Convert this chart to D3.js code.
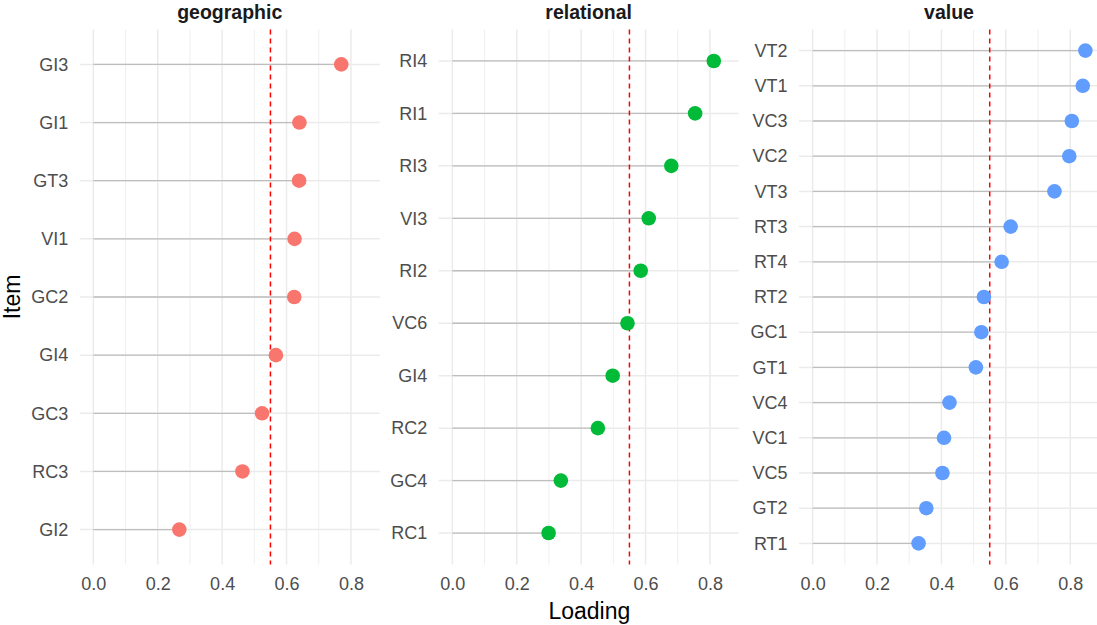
<!DOCTYPE html>
<html>
<head>
<meta charset="utf-8">
<script src="https://cdn.jsdelivr.net/npm/d3@7/dist/d3.min.js"></script>
<style>
  html, body { margin: 0; padding: 0; background: #ffffff; }
  svg { display: block; font-family: "Liberation Sans", Arial, sans-serif; }
</style>
</head>
<body>
<svg id="chart" width="1097" height="625"></svg>
<script>
// Factor loadings by dimension, listed from highest to lowest
const geographicItems = ["GI3", "GI1", "GT3", "VI1", "GC2", "GI4", "GC3", "RC3", "GI2"];
const geographicLoadings = [0.770, 0.640, 0.639, 0.625, 0.624, 0.567, 0.524, 0.463, 0.267];

const relationalItems = ["RI4", "RI1", "RI3", "VI3", "RI2", "VC6", "GI4", "RC2", "GC4", "RC1"];
const relationalLoadings = [0.812, 0.754, 0.680, 0.610, 0.585, 0.544, 0.498, 0.452, 0.337, 0.299];

const valueItems = ["VT2", "VT1", "VC3", "VC2", "VT3", "RT3", "RT4", "RT2", "GC1", "GT1", "VC4", "VC1", "VC5", "GT2", "RT1"];
const valueLoadings = [0.847, 0.839, 0.805, 0.797, 0.751, 0.615, 0.587, 0.532, 0.524, 0.507, 0.425, 0.408, 0.403, 0.353, 0.329];

const facetNames = ["geographic", "relational", "value"];
const facetColors = ["#F8766D", "#00BA38", "#619CFF"];
const xTicks = [0, 0.2, 0.4, 0.6, 0.8];
const xMinor = [0.1, 0.3, 0.5, 0.7];
const cutoff = 0.55;

const facets = [
  { name: facetNames[0], items: geographicItems, values: geographicLoadings, color: facetColors[0] },
  { name: facetNames[1], items: relationalItems, values: relationalLoadings, color: facetColors[1] },
  { name: facetNames[2], items: valueItems, values: valueLoadings, color: facetColors[2] }
];

const svg = d3.select("#chart");

// Layout
const panelTop = 29.5, panelBottom = 564.5;
const panelW = 300;
const panelLefts = [79.7, 438.7, 799];

// Shared x scale with 5% expansion on both sides (segments start at 0)
const allVals = [].concat(geographicLoadings, relationalLoadings, valueLoadings);
const xmax = d3.max(allVals), xmin = 0;
const pad = (xmax - xmin) * 0.05;
const x = d3.scaleLinear().domain([xmin - pad, xmax + pad]).range([0, panelW]);

const gridCol = "#EBEBEB";

facets.forEach((f, i) => {
  const g = svg.append("g").attr("transform", `translate(${panelLefts[i]},0)`);
  const n = f.items.length;
  // discrete scale with 0.6 expansion
  const y = d3.scalePoint().domain(f.items).range([panelTop, panelBottom]).padding(0.6);

  // minor vertical grid
  g.selectAll("line.minor").data(xMinor).join("line")
    .attr("x1", d => x(d)).attr("x2", d => x(d))
    .attr("y1", panelTop).attr("y2", panelBottom)
    .attr("stroke", gridCol).attr("stroke-width", 0.8);

  // major vertical grid
  g.selectAll("line.majx").data(xTicks).join("line")
    .attr("x1", d => x(d)).attr("x2", d => x(d))
    .attr("y1", panelTop).attr("y2", panelBottom)
    .attr("stroke", gridCol).attr("stroke-width", 1.5);

  // major horizontal grid
  g.selectAll("line.majy").data(f.items).join("line")
    .attr("x1", 0).attr("x2", panelW)
    .attr("y1", d => y(d)).attr("y2", d => y(d))
    .attr("stroke", gridCol).attr("stroke-width", 1.5);

  // lollipop stems
  g.selectAll("line.stem").data(f.items).join("line")
    .attr("x1", x(0)).attr("x2", (d, j) => x(f.values[j]))
    .attr("y1", d => y(d)).attr("y2", d => y(d))
    .attr("stroke", "#BEBEBE").attr("stroke-width", 1.3);

  // cutoff line
  g.append("line")
    .attr("x1", x(cutoff)).attr("x2", x(cutoff))
    .attr("y1", panelTop).attr("y2", panelBottom)
    .attr("stroke", "#FF0000").attr("stroke-width", 1.5)
    .attr("stroke-dasharray", "5,4");

  // points
  g.selectAll("circle").data(f.items).join("circle")
    .attr("cx", (d, j) => x(f.values[j]))
    .attr("cy", d => y(d))
    .attr("r", 7.3)
    .attr("fill", f.color);

  // y axis labels
  const yAxis = d3.axisLeft(y).tickSize(0).tickPadding(11.4);
  const ya = g.append("g").call(yAxis);
  ya.select(".domain").remove();
  ya.selectAll("text")
    .attr("fill", "#4D4D4D").attr("font-size", 18)
    .attr("font-family", "'Liberation Sans', Arial, sans-serif");

  // x axis labels
  const xAxis = d3.axisBottom(x).tickValues(xTicks).tickFormat(d3.format(".1f")).tickSize(0).tickPadding(0);
  const xa = g.append("g").attr("transform", `translate(0,${panelBottom})`).call(xAxis);
  xa.select(".domain").remove();
  xa.selectAll("text")
    .attr("fill", "#4D4D4D").attr("font-size", 18)
    .attr("font-family", "'Liberation Sans', Arial, sans-serif")
    .attr("dy", null)
    .attr("y", 25.5);

  // facet title
  g.append("text")
    .attr("x", panelW / 2).attr("y", 18.5)
    .attr("text-anchor", "middle")
    .attr("font-size", 19.5).attr("font-weight", "bold")
    .attr("fill", "#1A1A1A")
    .text(f.name);
});

// axis titles
svg.append("text")
  .attr("x", (panelLefts[0] + panelLefts[2] + panelW) / 2)
  .attr("y", 618.5)
  .attr("text-anchor", "middle")
  .attr("font-size", 23).attr("fill", "#000")
  .text("Loading");

svg.append("text")
  .attr("transform", `translate(20,${(panelTop + panelBottom) / 2}) rotate(-90)`)
  .attr("text-anchor", "middle")
  .attr("font-size", 23).attr("fill", "#000")
  .text("Item");
</script>
</body>
</html>
